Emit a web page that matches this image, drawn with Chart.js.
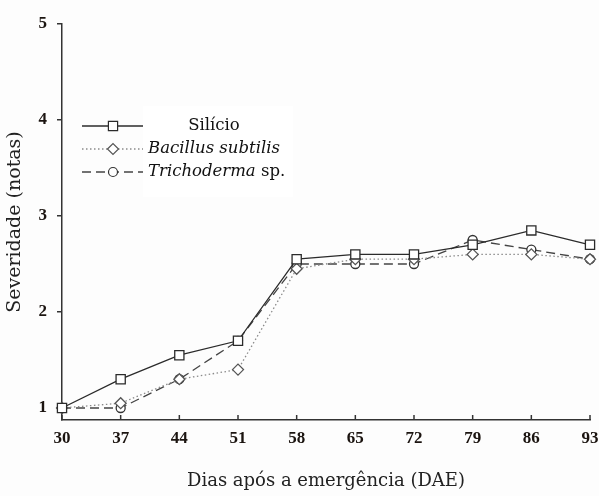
<!DOCTYPE html>
<html>
<head>
<meta charset="utf-8">
<script src="https://cdn.jsdelivr.net/npm/chart.js@4"></script>
<style>
  html, body { margin: 0; padding: 0; background: #fdfdfd; }
  #wrap { width: 599px; height: 496px; }
</style>
</head>
<body>
<div id="wrap"><canvas id="severityChart" width="599" height="496"></canvas></div>
<script>
// === DATA ===
const days = ['30', '37', '44', '51', '58', '65', '72', '79', '86', '93'];
const yTicks = [1, 2, 3, 4, 5];
const silicio = [1.0, 1.3, 1.55, 1.7, 2.55, 2.6, 2.6, 2.7, 2.85, 2.7];
const bacillus = [1.0, 1.05, 1.3, 1.4, 2.45, 2.55, 2.55, 2.6, 2.6, 2.55];
const trichoderma = [1.0, 1.0, 1.3, 1.7, 2.5, 2.5, 2.5, 2.75, 2.65, 2.55];

const serif = '"DejaVu Serif", serif';
const tickFont = { family: '"Liberation Serif", serif', size: 17, weight: 'bold' };

// legend drawn by hand so the italic parts of the names can be kept
const legendRows = [
    { parts: [['Silício', false]], center: true },
    { parts: [['Bacillus subtilis', true]] },
    { parts: [['Trichoderma', true], [' sp.', false]] }
];

const customLegend = {
    id: 'customLegend',
    afterDatasetsDraw(chart) {
        const ctx = chart.ctx;
        ctx.save();
        ctx.fillStyle = '#ffffff';
        ctx.fillRect(143, 106, 150, 91);
        chart.data.datasets.forEach((ds, i) => {
            const y = 126 + i * 23;
            ctx.strokeStyle = ds.borderColor;
            ctx.lineWidth = ds.borderWidth;
            ctx.setLineDash(ds.borderDash || []);
            ctx.beginPath();
            ctx.moveTo(82, y);
            ctx.lineTo(143, y);
            ctx.stroke();
            ctx.setLineDash([]);
            ctx.fillStyle = '#ffffff';
            ctx.strokeStyle = ds.pointBorderColor;
            ctx.lineWidth = 1.2;
            Chart.helpers.drawPoint(ctx, {
                pointStyle: ds.pointStyle,
                radius: ds.pointRadius,
                borderWidth: 1.2
            }, 113, y);
            ctx.fillStyle = '#111';
            ctx.textBaseline = 'middle';
            const row = legendRows[i];
            let x = 148;
            if (row.center) {
                ctx.font = '16.5px ' + serif;
                x = 214 - ctx.measureText(row.parts[0][0]).width / 2;
            }
            row.parts.forEach(([txt, it]) => {
                ctx.font = (it ? 'italic ' : '') + '16.5px ' + serif;
                ctx.fillText(txt, x, y);
                x += ctx.measureText(txt).width;
            });
        });
        ctx.restore();
    }
};

// inward tick marks on the x axis
const innerTicks = {
    id: 'innerTicks',
    afterDraw(chart) {
        const sx = chart.scales.x;
        const ctx = chart.ctx;
        ctx.save();
        ctx.strokeStyle = '#333';
        ctx.lineWidth = 1.5;
        sx.ticks.forEach((t, i) => {
            const px = sx.getPixelForTick(i);
            ctx.beginPath();
            ctx.moveTo(px, sx.top);
            ctx.lineTo(px, sx.top - 5);
            ctx.stroke();
        });
        ctx.restore();
    }
};

const common = {
    backgroundColor: '#ffffff',
    pointBackgroundColor: '#ffffff',
    pointBorderWidth: 1.3,
    borderWidth: 1.3,
    tension: 0
};

new Chart(document.getElementById('severityChart').getContext('2d'), {
    type: 'line',
    data: {
        labels: days,
        datasets: [
            Object.assign({}, common, {
                label: 'Silício',
                data: silicio,
                borderColor: '#2b2b2b',
                pointBorderColor: '#2b2b2b',
                pointStyle: 'rect',
                pointRadius: 6.5
            }),
            Object.assign({}, common, {
                label: 'Bacillus subtilis',
                data: bacillus,
                borderColor: '#8a8a8a',
                pointBorderColor: '#555',
                borderDash: [1.5, 2.5],
                pointStyle: 'rectRot',
                pointRadius: 5.5
            }),
            Object.assign({}, common, {
                label: 'Trichoderma sp.',
                data: trichoderma,
                borderColor: '#444',
                pointBorderColor: '#333',
                borderDash: [9, 5],
                pointStyle: 'circle',
                pointRadius: 4.5
            })
        ]
    },
    options: {
        responsive: false,
        animation: false,
        layout: { padding: { top: 24, right: 9, left: 0, bottom: 0 } },
        plugins: {
            legend: { display: false },
            tooltip: { enabled: false }
        },
        scales: {
            x: {
                offset: false,
                grid: { display: false, drawTicks: false },
                border: { color: '#333', width: 1.5 },
                ticks: { font: tickFont, color: '#1b1410', padding: 8, maxRotation: 0 },
                title: {
                    display: true,
                    text: 'Dias após a emergência (DAE)',
                    font: { family: serif, size: 18 },
                    color: '#222',
                    padding: { top: 8 }
                },
                afterFit(scale) {
                    scale.height = 76;
                    scale.paddingLeft = 0;
                    scale.paddingRight = 0;
                }
            },
            y: {
                min: 0.875,
                max: 5,
                afterBuildTicks(scale) {
                    scale.ticks = yTicks.map(v => ({ value: v }));
                },
                grid: { display: true, drawOnChartArea: false, tickLength: 5, color: '#333', lineWidth: 1.5 },
                border: { color: '#333', width: 1.5 },
                ticks: { font: tickFont, color: '#1b1410', padding: 10 },
                title: {
                    display: true,
                    text: 'Severidade (notas)',
                    font: { family: serif, size: 19 },
                    color: '#222',
                    padding: { bottom: 0 }
                },
                afterFit(scale) {
                    scale.width = 62;
                    scale.paddingTop = 0;
                    scale.paddingBottom = 0;
                }
            }
        }
    },
    plugins: [customLegend, innerTicks]
});
</script>
</body>
</html>
